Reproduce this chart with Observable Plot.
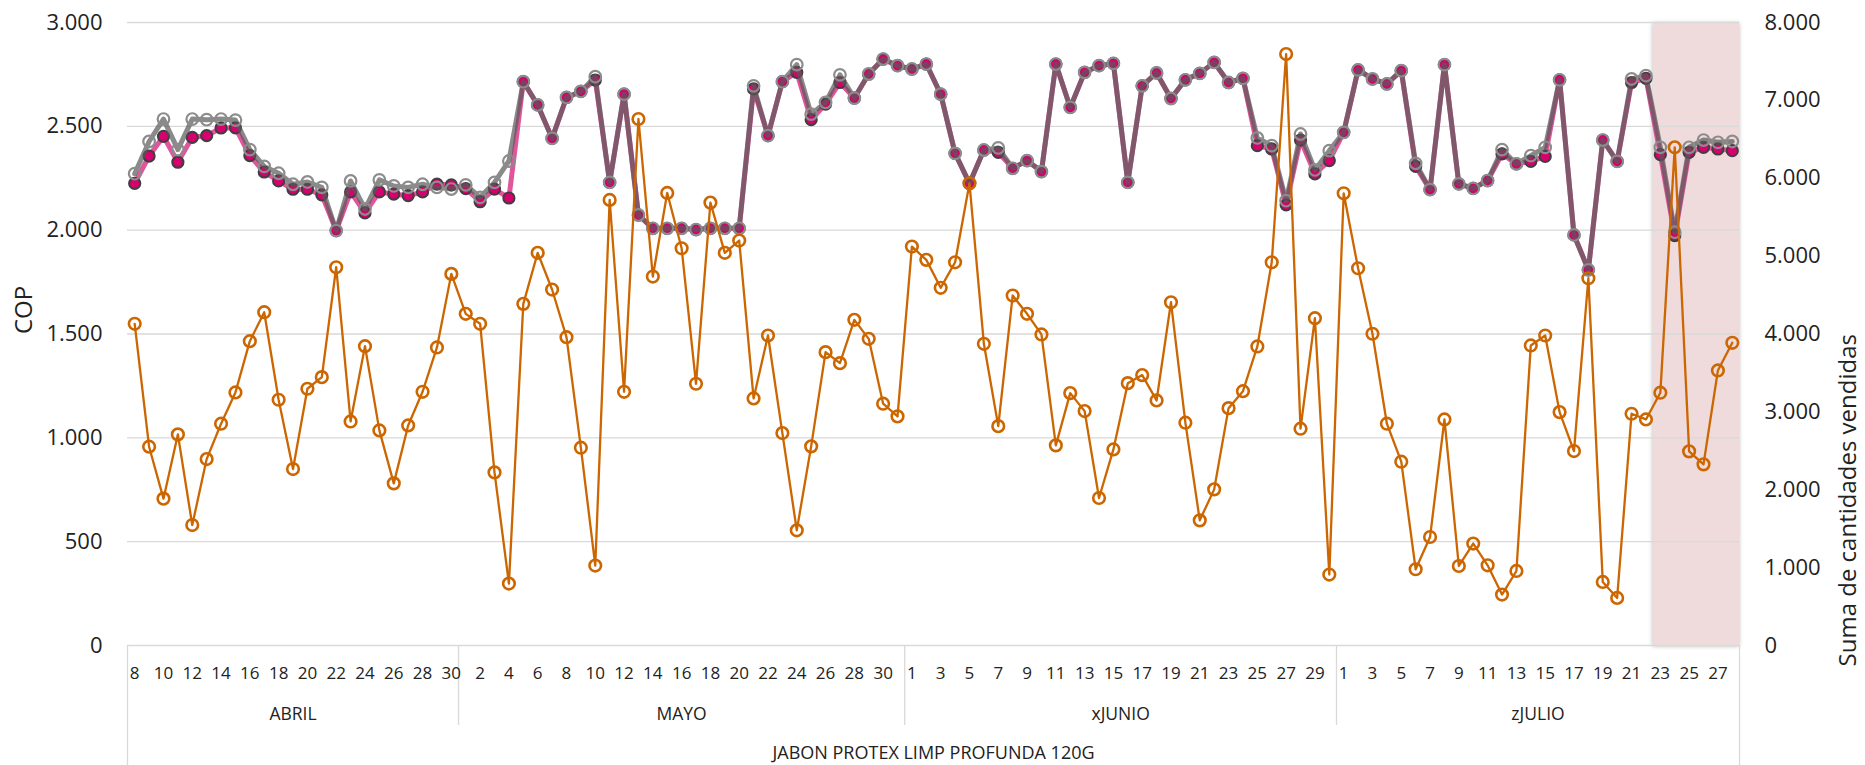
<!DOCTYPE html>
<html>
<head>
<meta charset="utf-8">
<script src="https://cdn.jsdelivr.net/npm/d3@7"></script>
<script src="https://cdn.jsdelivr.net/npm/@observablehq/plot@0.6"></script>
<style>
html, body { margin: 0; padding: 0; background: #ffffff; }
#chart { width: 1865px; height: 765px; }
</style>
</head>
<body>
<div id="chart"></div>
<script>
// ---------- data ----------
const product = "JABON PROTEX LIMP PROFUNDA 120G";
const months = ["ABRIL", "MAYO", "xJUNIO", "zJULIO"];
const monthFirstDay = [8, 1, 1, 1];
const monthLastDay = [30, 31, 30, 28];

// COP series 1 (magenta, filled markers)
const copPink = [
  // ABRIL 8..30
  2225, 2357, 2452, 2327, 2447, 2455, 2492, 2493, 2359, 2280, 2237, 2197, 2197, 2170, 1998, 2184, 2083, 2184, 2174, 2166, 2184, 2222, 2218,
  // MAYO 1..31
  2200, 2137, 2198, 2155, 2715, 2603, 2442, 2639, 2668, 2723, 2230, 2655, 2073, 2009, 2009, 2009, 2003, 2009, 2009, 2009, 2680, 2455, 2715, 2760, 2532, 2607, 2711, 2636, 2752, 2824, 2792,
  // xJUNIO 1..30
  2776, 2800, 2655, 2370, 2225, 2386, 2375, 2298, 2335, 2282, 2800, 2591, 2760, 2792, 2803, 2230, 2695, 2757, 2634, 2724, 2755, 2808, 2711, 2731, 2407, 2391, 2122, 2434, 2271, 2335,
  // zJULIO 1..28
  2471, 2772, 2728, 2704, 2768, 2307, 2195, 2797, 2223, 2201, 2239, 2367, 2319, 2331, 2355, 2724, 1977, 1809, 2434, 2331, 2711, 2731, 2364, 1974, 2375, 2399, 2391, 2383
];

// COP series 2 (gray, hollow markers)
const copGray = [
  2272, 2427, 2535, 2388, 2535, 2532, 2535, 2530, 2388, 2307, 2274, 2221, 2232, 2206, 1998, 2237, 2102, 2242, 2213, 2206, 2221, 2206, 2198,
  2218, 2158, 2230, 2333, 2715, 2603, 2442, 2639, 2668, 2739, 2230, 2655, 2073, 2009, 2009, 2009, 2003, 2009, 2009, 2009, 2695, 2455, 2715, 2797, 2559, 2615, 2748, 2636, 2752, 2824, 2792,
  2776, 2800, 2655, 2370, 2225, 2386, 2396, 2298, 2335, 2282, 2800, 2591, 2760, 2792, 2803, 2230, 2695, 2757, 2634, 2724, 2755, 2808, 2711, 2731, 2444, 2407, 2142, 2463, 2290, 2383,
  2471, 2772, 2728, 2704, 2768, 2322, 2195, 2797, 2223, 2201, 2239, 2388, 2319, 2359, 2399, 2724, 1977, 1809, 2434, 2331, 2728, 2744, 2399, 1990, 2399, 2434, 2423, 2427
];

// Suma de cantidades vendidas (orange, right axis)
const qty = [
  4131, 2553, 1886, 2711, 1547, 2394, 2848, 3250, 3908, 4280, 3156, 2266, 3297, 3446, 4857, 2877, 3844, 2762, 2082, 2826, 3258, 3827, 4772,
  4259, 4131, 2223, 795, 4387, 5042, 4571, 3959, 2540, 1026, 5722, 3258, 6761, 4738, 5811, 5101, 3361, 5687, 5042, 5200, 3173, 3981, 2728, 1479, 2557, 3767, 3626, 4182, 3938, 3105, 2942,
  5123, 4952, 4593, 4921, 5935, 3874, 2817, 4494, 4259, 3994, 2570, 3241, 3010, 1894, 2518, 3369, 3472, 3147, 4408, 2861, 1607, 2005, 3048, 3266, 3840, 4921, 7595, 2784, 4203, 911,
  5807, 4844, 4003, 2848, 2360, 979, 1393, 2903, 1021, 1309, 1030, 654, 957, 3853, 3981, 2997, 2497, 4716, 816, 611, 2976, 2903, 3246, 6397, 2493, 2326, 3532, 3887
];

const leftTicks = [0, 500, 1000, 1500, 2000, 2500, 3000];
const rightTicks = [0, 1000, 2000, 3000, 4000, 5000, 6000, 7000, 8000];
const leftMax = 3000, rightMax = 8000;
const highlightMonth = "zJULIO", highlightFromDay = 23;

// ---------- build table ----------
const rows = [];
months.forEach((m, mi) => {
  for (let d = monthFirstDay[mi]; d <= monthLastDay[mi]; d++) {
    const i = rows.length;
    rows.push({i, month: m, day: d, pink: copPink[i], gray: copGray[i], qty: qty[i]});
  }
});
const n = rows.length;
const k = leftMax / rightMax;
const monthSpans = months.map(m => {
  const r = rows.filter(d => d.month === m);
  return {name: m, start: r[0].i, end: r[r.length - 1].i + 1};
});
const hlStart = rows.find(d => d.month === highlightMonth && d.day === highlightFromDay).i;
const xc = d => d.i + 0.5;

const loc = d3.formatLocale({decimal: ",", thousands: ".", grouping: [3], currency: ["$", ""]});
const fmt = loc.format(",.0f");

const W = 1865, H = 765, mL = 127, mR = 126, mT = 22, mB = 120;
const font = "'Segoe UI', 'Open Sans', sans-serif";
const txt = "#222222";
const grid = "#d9d9d9";

const chart = Plot.plot({
  width: W, height: H,
  marginLeft: mL, marginRight: mR, marginTop: mT, marginBottom: mB,
  style: {fontFamily: font, background: "#ffffff", overflow: "visible"},
  x: {type: "linear", domain: [0, n], axis: null},
  y: {domain: [0, leftMax], axis: null},
  marks: [
    // highlight region
    Plot.rect([{a: hlStart, b: n}], {x1: "a", x2: "b", y1: 0, y2: leftMax, fill: "#efdbdb"}),
    // gridlines
    Plot.ruleY(leftTicks.filter(v => v > 0), {stroke: grid, strokeWidth: 1.3}),
    Plot.ruleY([0], {stroke: grid, strokeWidth: 1.5}),
    // category separators
    Plot.ruleX(monthSpans.slice(1), {x: d => d.start, y1: 0, y2: 0, insetBottom: -80, stroke: grid, strokeWidth: 1.3}),
    Plot.ruleX([0, n], {x: d => d, y1: 0, y2: 0, insetBottom: -122, stroke: grid, strokeWidth: 1.3}),
    // series
    Plot.line(rows, {x: xc, y: "pink", stroke: "#e0559c", strokeWidth: 5, strokeLinejoin: "round"}),
    Plot.dot(rows, {x: xc, y: "pink", r: 5.6, fill: "#d6006e", stroke: "#3f3f3f", strokeWidth: 2}),
    Plot.line(rows, {x: xc, y: "gray", stroke: "#595959", strokeOpacity: 0.7, strokeWidth: 5, strokeLinejoin: "round"}),
    Plot.dot(rows, {x: xc, y: "gray", r: 5.8, fill: "none", stroke: "#8c8c8c", strokeWidth: 2.2}),
    Plot.line(rows, {x: xc, y: d => d.qty * k, stroke: "#cc6600", strokeWidth: 2.3}),
    Plot.dot(rows, {x: xc, y: d => d.qty * k, r: 5.8, fill: "none", stroke: "#cc6600", strokeWidth: 2.6}),
    // left axis labels
    Plot.text(leftTicks, {y: d => d, frameAnchor: "left", dx: -25, textAnchor: "end", text: d => fmt(d), fontSize: 22, fill: txt}),
    // right axis labels
    Plot.text(rightTicks, {y: d => d * k, frameAnchor: "right", dx: 25, textAnchor: "start", text: d => fmt(d), fontSize: 22, fill: txt}),
    // axis titles
    Plot.text(["COP"], {frameAnchor: "left", dx: -103, rotate: -90, text: d => d, fontSize: 24, fill: txt}),
    Plot.text(["Suma de cantidades vendidas"], {frameAnchor: "right", dx: 109, rotate: -90, text: d => d, fontSize: 24, fill: txt}),
    // day labels
    Plot.text(rows.filter(d => d.i % 2 === 0), {x: xc, y: 0, dy: 28, text: d => String(d.day), fontSize: 17, fill: txt}),
    // month labels
    Plot.text(monthSpans, {x: d => (d.start + d.end) / 2, y: 0, dy: 69, text: "name", fontSize: 17.5, fill: txt}),
    // product label
    Plot.text([product], {x: n / 2, y: 0, dy: 108, text: d => d, fontSize: 18, fill: txt})
  ]
});

document.getElementById("chart").appendChild(chart);
d3.select(chart).select("g[aria-label='rect']").style("filter", "drop-shadow(0px 1px 2px rgba(0,0,0,0.28))");
</script>
</body>
</html>
